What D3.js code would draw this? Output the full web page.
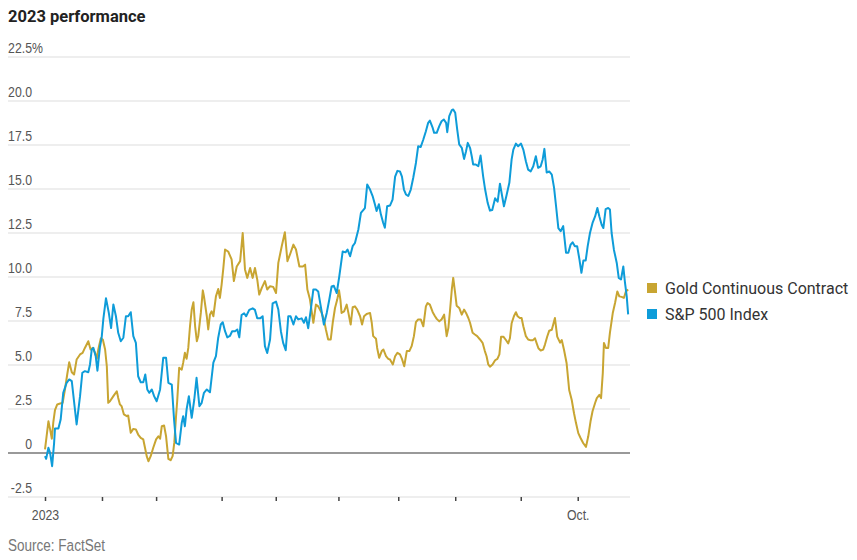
<!DOCTYPE html>
<html lang="en">
<head>
<meta charset="UTF-8" />
<title>2023 performance</title>
<style>
  body { margin: 0; background: #fff; }
  svg { display: block; }
  .narrow { font-family: "Liberation Sans", Arial, sans-serif; }
  .wide { font-family: Roboto, "Liberation Sans", sans-serif; }
</style>
</head>
<body>
<svg id="chart" width="857" height="560"></svg>
<script src="https://d3js.org/d3.v7.min.js"></script>
<script>
// y axis
const yTicks = [-2.5, 0, 2.5, 5, 7.5, 10, 12.5, 15, 17.5, 20, 22.5];
const yLabels = ["-2.5", "0", "2.5", "5.0", "7.5", "10.0", "12.5", "15.0", "17.5", "20.0", "22.5"];

// x axis: trading-day index since the first session of 2023
const tickDays = [0, 20, 39, 62, 81, 103, 124, 144, 167, 187];
const tickLabels = ["2023", "", "", "", "", "", "", "", "", "Oct."];

const seriesNames = ["Gold Continuous Contract", "S&P 500 Index"];

// Gold continuous contract, % change since start of year
const goldDays = [0, 1.2, 1.8, 2.4, 2.9, 3.5, 4.3, 5.3, 6.2, 7.0, 7.8, 8.5, 9.4, 10.2, 11.1, 12.3, 13.2, 14.0, 15.2, 16.0,
  16.7, 17.6, 18.2, 18.7, 19.6, 20.3, 21.1, 21.7, 22.2, 22.8, 24.0, 25.2, 25.7, 26.3, 26.9, 27.7, 28.7, 29.2, 30.1, 31.0,
  31.9, 32.7, 33.6, 34.5, 35.1, 35.7, 36.3, 37.1, 38.0, 39.0, 39.8, 40.4, 41.0, 41.8, 42.5, 43.3, 44.1, 44.8, 45.4, 46.0,
  46.4, 47.1, 48.0, 48.5, 49.1, 49.7, 50.3, 50.9, 51.5, 52.1, 52.7, 53.3, 53.8, 54.7, 55.4, 55.8, 56.8, 57.3, 57.9, 58.5,
  59.1, 60.0, 60.8, 61.4, 62.0, 62.6, 63.2, 64.3, 65.5, 66.3, 67.3, 68.5, 69.4, 70.2, 71.0, 72.0, 72.9, 73.7, 74.5, 75.2,
  76.1, 77.2, 78.0, 79.0, 80.1, 81.1, 81.9, 83.1, 84.2, 85.1, 86.0, 87.2, 88.1, 89.3, 90.5, 91.3, 92.1, 93.0, 94.2, 95.1,
  95.9, 97.1, 97.9, 98.6, 99.4, 100.3, 101.0, 101.8, 102.6, 103.2, 103.7, 104.1, 105.0, 105.9, 106.5, 107.3, 108.0, 108.8, 109.6, 110.6,
  111.3, 112.0, 112.9, 114.1, 114.7, 115.2, 116.2, 116.6, 117.3, 118.2, 118.8, 119.7, 120.5, 121.1, 122.1, 122.9, 123.7, 124.6, 125.3, 126.1,
  127.0, 127.9, 128.7, 129.5, 130.2, 131.0, 131.9, 132.8, 133.7, 134.3, 135.1, 136.1, 136.9, 137.5, 138.4, 139.2, 140.1, 141.0, 141.6, 142.2,
  142.8, 143.3, 143.9, 144.5, 145.4, 146.3, 147.1, 147.8, 148.6, 149.2, 150.1, 150.9, 151.7, 152.7, 153.6, 154.4, 155.0, 155.6, 156.2, 157.1,
  158.0, 158.8, 159.5, 160.1, 160.9, 161.8, 162.6, 163.2, 163.8, 164.6, 165.3, 165.9, 166.7, 167.3, 167.9, 168.8, 169.6, 170.5, 171.2, 172.0,
  172.6, 173.2, 174.0, 174.9, 175.5, 176.3, 177.0, 177.9, 178.4, 179.0, 179.8, 180.8, 181.4, 182.2, 183.1, 184.0, 184.9, 185.7, 186.4, 187.2,
  188.0, 188.9, 189.9, 190.7, 191.5, 192.2, 193.1, 193.7, 194.6, 195.2, 195.8, 196.2, 196.9, 197.7, 198.3, 199.3, 200.1, 200.9, 201.6, 202.4,
  203.2, 203.9, 204.7];
const goldPct = [0.2, 1.8, 1.34, 0.81, 1.72, 2.43, 2.76, 2.81, 2.85, 3.61, 4.46, 5.16, 4.59, 4.46, 5.31, 5.6, 5.69, 5.97, 6.35, 5.88,
  5.97, 5.69, 5.35, 5.88, 6.52, 6.45, 5.88, 4.93, 2.85, 2.94, 3.23, 3.51, 3.13, 2.76, 2.66, 2.19, 2.09, 2.13, 1.15, 1.37,
  1.34, 1.05, 0.86, 0.77, 0.3, -0.18, -0.47, -0.18, 0.3, 0.77, 0.95, 0.81, 1.52, 1.56, 0.95, -0.33, -0.41, -0.18, 0.6, 2.09,
  2.94, 4.84, 4.74, 5.12, 5.69, 5.35, 5.97, 7.2, 8.15, 8.56, 7.2, 6.35, 6.65, 7.96, 9.24, 8.9, 7.77, 7.02, 7.86, 8.05,
  7.77, 8.9, 9.32, 8.81, 9.57, 10.51, 11.56, 11.45, 11.0, 9.77, 10.6, 10.9, 12.5, 10.43, 9.95, 10.51, 9.95, 10.51, 9.86, 9.0,
  9.38, 9.77, 9.29, 9.48, 9.44, 9.09, 10.8, 11.75, 12.54, 10.9, 11.28, 11.84, 11.56, 10.6, 10.6, 10.7, 9.29, 8.73, 7.4, 8.43,
  8.33, 7.96, 7.59, 7.02, 6.45, 6.45, 7.4, 8.24, 8.73, 9.25, 8.7, 7.96, 8.05, 8.43, 7.96, 7.3, 8.28, 8.33, 8.15, 7.77,
  7.3, 7.77, 7.9, 7.96, 7.4, 6.64, 6.49, 5.97, 5.41, 5.79, 5.88, 5.5, 5.35, 5.31, 5.03, 5.5, 5.69, 5.6, 5.35, 4.93,
  5.79, 5.79, 6.07, 6.64, 7.43, 7.59, 7.59, 7.2, 8.33, 8.52, 8.43, 8.0, 7.77, 7.62, 7.48, 7.59, 7.86, 6.64, 7.11, 8.15,
  9.29, 9.95, 9.18, 8.37, 8.24, 7.86, 8.15, 7.96, 7.67, 7.4, 6.83, 6.73, 6.64, 6.45, 6.26, 5.79, 5.5, 5.03, 4.9, 5.03,
  5.27, 5.35, 5.6, 6.61, 6.61, 6.42, 6.23, 6.52, 7.37, 7.77, 8.0, 7.77, 7.67, 7.67, 7.2, 6.64, 6.45, 6.4, 6.4, 6.52,
  6.23, 5.95, 5.82, 5.88, 6.16, 6.62, 6.95, 7.0, 7.3, 7.67, 6.61, 6.27, 6.42, 5.85, 5.1, 3.58, 3.01, 2.26, 1.7, 1.13,
  0.85, 0.57, 0.35, 0.95, 1.8, 2.37, 2.84, 3.12, 3.3, 3.12, 4.54, 6.25, 5.97, 5.97, 6.82, 7.95, 8.52, 9.18, 8.9, 8.87,
  8.81, 9.18, 9.29];

// S&P 500 index, % change since start of year
const spDays = [0, 0.4, 1.2, 1.8, 2.5, 3.2, 3.5, 4.7, 5.5, 6.4, 7.6, 8.5, 9.4, 11.1, 12.3, 13.1, 14.0, 15.2, 15.8, 16.4,
  17.0, 17.8, 18.4, 19.3, 19.9, 20.5, 21.4, 22.4, 23.2, 24.0, 24.9, 25.7, 26.6, 27.5, 28.4, 29.2, 30.1, 31.0, 31.9, 32.7,
  33.6, 34.5, 35.2, 35.9, 36.6, 37.5, 38.3, 39.2, 40.4, 41.5, 42.5, 43.3, 44.5, 45.3, 46.0, 47.1, 48.0, 48.5, 49.1, 49.7,
  50.5, 51.5, 52.4, 53.2, 54.2, 55.0, 55.8, 56.8, 57.9, 59.1, 60.0, 60.8, 61.7, 62.4, 63.2, 64.0, 64.9, 65.7, 66.7, 67.5,
  68.2, 69.0, 69.9, 70.6, 71.7, 72.9, 73.7, 74.5, 75.5, 76.4, 77.2, 78.0, 79.0, 79.9, 81.1, 81.9, 82.8, 83.6, 84.5, 85.4,
  86.2, 87.2, 88.1, 88.9, 90.1, 90.9, 91.6, 92.4, 93.3, 94.2, 95.1, 95.9, 96.8, 97.9, 98.9, 99.8, 100.6, 101.4, 102.4, 103.3,
  104.5, 105.5, 106.2, 107.1, 108.0, 108.8, 110.0, 110.9, 112.3, 113.1, 114.1, 115.0, 115.8, 116.4, 117.2, 117.9, 118.7, 119.3, 120.1, 121.1,
  122.0, 122.9, 123.7, 124.6, 125.3, 126.0, 126.7, 127.5, 128.4, 129.3, 130.2, 131.0, 131.9, 132.8, 133.7, 134.5, 135.1, 136.1, 136.6, 137.5,
  138.4, 139.2, 140.0, 140.8, 141.2, 141.9, 142.8, 143.3, 144.0, 144.7, 145.4, 146.3, 147.1, 147.8, 148.4, 149.2, 149.8, 150.3, 151.2, 152.1,
  152.9, 153.8, 154.5, 155.4, 156.2, 157.0, 158.0, 158.9, 159.7, 161.1, 162.0, 163.0, 163.8, 164.4, 165.3, 166.1, 167.1, 167.9, 168.8, 169.6,
  170.5, 171.4, 172.3, 173.1, 174.0, 174.7, 175.3, 176.1, 177.0, 177.9, 178.7, 179.4, 180.2, 181.0, 181.9, 182.9, 183.7, 184.5, 185.2, 186.0,
  186.8, 187.6, 188.3, 189.0, 189.8, 190.5, 191.3, 192.2, 193.1, 193.9, 194.6, 195.4, 196.0, 196.8, 197.7, 198.3, 198.9, 199.7, 200.7, 201.4,
  202.2, 203.0, 203.6, 204.2, 204.7];
const spPct = [-0.18, -0.33, 0.3, 0.0, -0.75, 0.58, 1.39, 1.39, 1.9, 3.42, 3.99, 4.18, 4.08, 1.62, 3.23, 4.56, 4.65, 4.59, 5.03, 5.88,
  5.97, 5.5, 4.68, 6.04, 6.57, 7.65, 8.79, 7.96, 7.1, 8.44, 7.77, 6.83, 6.35, 6.55, 7.77, 7.77, 8.0, 6.64, 6.26, 4.36,
  4.02, 4.02, 4.46, 3.61, 3.42, 3.61, 3.23, 2.94, 3.61, 5.41, 5.41, 3.99, 3.89, 1.9, 0.58, 0.48, 1.71, 2.09, 1.52, 2.47,
  3.23, 2.0, 3.04, 4.27, 2.66, 2.85, 3.42, 3.61, 3.45, 5.13, 5.5, 6.55, 7.3, 7.43, 6.92, 6.57, 6.65, 6.92, 6.92, 7.02,
  6.57, 7.84, 7.94, 7.77, 8.13, 8.22, 8.13, 7.65, 7.65, 7.77, 6.07, 5.68, 6.45, 8.5, 8.6, 8.15, 6.92, 6.26, 5.84, 7.77,
  7.77, 7.3, 7.77, 7.59, 7.65, 7.4, 7.71, 7.09, 8.15, 9.29, 9.29, 9.18, 8.33, 7.3, 7.96, 8.72, 9.46, 9.5, 9.09, 10.04,
  11.45, 11.4, 11.56, 11.18, 11.75, 11.93, 12.7, 13.64, 13.92, 15.25, 14.97, 14.6, 14.13, 13.75, 14.13, 13.56, 13.08, 12.8, 14.02, 14.06,
  14.4, 15.7, 16.03, 16.0, 15.7, 14.97, 14.69, 14.6, 14.97, 15.67, 16.48, 17.43, 17.39, 17.81, 18.28, 18.76, 18.89, 18.47, 18.19, 18.19,
  18.57, 18.85, 18.95, 18.76, 18.23, 19.14, 19.48, 19.52, 19.33, 18.38, 17.53, 17.34, 16.71, 17.15, 17.62, 17.34, 16.86, 16.39, 16.39, 16.29,
  16.9, 15.72, 14.97, 14.2, 13.77, 13.81, 14.47, 14.28, 15.3, 14.02, 14.63, 15.35, 16.68, 17.24, 17.58, 17.43, 17.58, 17.24, 16.58, 16.1,
  16.0, 16.29, 16.86, 16.2, 16.29, 16.68, 17.28, 15.94, 16.0, 15.82, 15.06, 14.02, 12.78, 12.6, 12.89, 11.38, 11.38, 11.84, 11.97, 11.75,
  11.75, 11.0, 10.24, 10.94, 10.94, 11.75, 12.5, 13.07, 13.44, 13.92, 13.44, 12.97, 12.78, 13.86, 13.92, 13.84, 12.5, 11.55, 10.8, 9.95,
  9.86, 10.6, 9.66, 8.9, 7.88];

const goldColor = "#c8a532";
const spColor = "#0e9cd9";

const svg = d3.select("#chart");
const plotLeft = 8, plotRight = 630;
const squeeze = 0.82; // no condensed face installed, so narrow the regular one

const x = d3.scaleLinear().domain([0, 205]).range([45, 629]);
const y = d3.scaleLinear().domain([-2.5, 22.5]).range([497, 57]);

// title
svg.append("text")
  .attr("class", "wide")
  .attr("x", 8).attr("y", 22)
  .attr("font-size", 16.5).attr("font-weight", 700)
  .attr("fill", "#222")
  .text("2023 performance");

// gridlines
svg.append("g").selectAll("line")
  .data(yTicks.filter(v => v !== 0))
  .join("line")
  .attr("x1", plotLeft).attr("x2", plotRight)
  .attr("y1", d => y(d)).attr("y2", d => y(d))
  .attr("stroke", "#e8e8e8").attr("stroke-width", 1.5);

// y labels, numbers right aligned, % hanging out on the top one
const yl = svg.append("g").attr("class", "narrow").attr("font-size", 15).attr("fill", "#555");
yl.selectAll("text.num")
  .data(yTicks)
  .join("text")
  .attr("class", "num")
  .attr("transform", d => `translate(32,${y(d) - 4}) scale(${squeeze},1)`)
  .attr("text-anchor", "end")
  .text((d, i) => yLabels[i]);
yl.append("text")
  .attr("transform", `translate(32,${y(22.5) - 4}) scale(${squeeze},1)`)
  .text("%");

// x axis ticks along the bottom gridline
const xa = svg.append("g").attr("transform", `translate(0,${y(-2.5)})`)
  .call(d3.axisBottom(x).tickValues(tickDays).tickSize(4).tickPadding(9)
    .tickFormat((d, i) => tickLabels[i]));
xa.select(".domain").remove();
xa.selectAll(".tick line").attr("stroke", "#444").attr("stroke-width", 1.5);
xa.selectAll(".tick text")
  .attr("class", "narrow").attr("font-size", 15).attr("fill", "#555")
  .attr("dy", null).attr("y", 23)
  .attr("transform", `scale(${squeeze},1)`);

// zero line
svg.append("line")
  .attr("x1", plotLeft).attr("x2", plotRight)
  .attr("y1", y(0)).attr("y2", y(0))
  .attr("stroke", "#777").attr("stroke-width", 1.6);

const line = d3.line().x(d => x(d[0])).y(d => y(d[1]));
const gold = goldDays.map((d, i) => [d, goldPct[i]]);
const sp = spDays.map((d, i) => [d, spPct[i]]);

svg.append("path").datum(gold)
  .attr("d", line).attr("fill", "none")
  .attr("stroke", goldColor).attr("stroke-width", 2).attr("stroke-linejoin", "round");
svg.append("path").datum(sp)
  .attr("d", line).attr("fill", "none")
  .attr("stroke", spColor).attr("stroke-width", 2).attr("stroke-linejoin", "round");

// legend
const lg = svg.append("g").attr("transform", "translate(647,283)");
const items = lg.selectAll("g").data(seriesNames).join("g")
  .attr("transform", (d, i) => `translate(0,${i * 26})`);
items.append("rect").attr("width", 10).attr("height", 10)
  .attr("fill", (d, i) => i === 0 ? goldColor : spColor);
items.append("text").attr("class", "wide")
  .attr("x", 18).attr("y", 10.5)
  .attr("font-size", 16).attr("fill", "#333")
  .text(d => d);

// source
svg.append("text")
  .attr("class", "narrow")
  .attr("transform", `translate(8,550.5) scale(${squeeze},1)`)
  .attr("font-size", 16.5).attr("fill", "#777")
  .text("Source: FactSet");
</script>
</body>
</html>
